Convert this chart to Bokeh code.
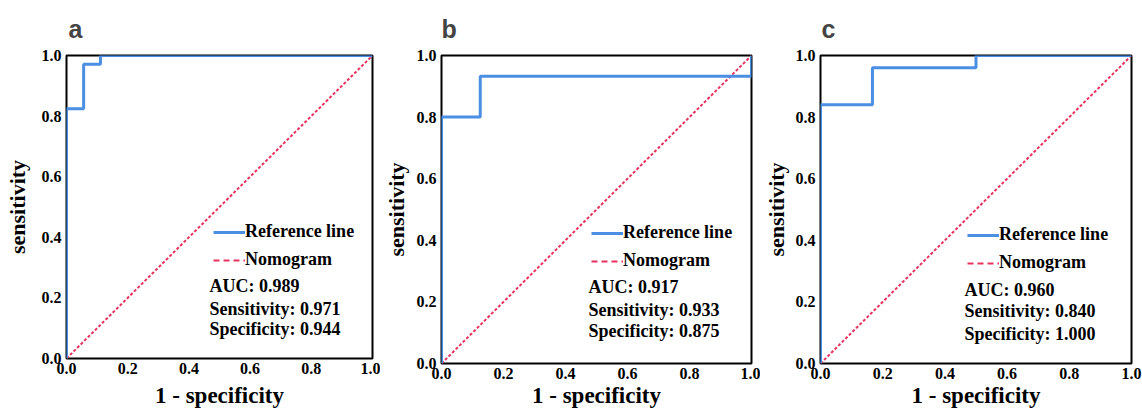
from bokeh.plotting import figure
from bokeh.layouts import row, column
from bokeh.models import (Range1d, FixedTicker, PrintfTickFormatter, Legend,
                          LegendItem, Label)
from bokeh.embed import file_html
from bokeh.resources import INLINE

# ---- data ----
panel_letters = ["a", "b", "c"]
a_fpr = [0.0, 0.0, 0.056, 0.056, 0.111, 0.111, 1.0]
a_tpr = [0.0, 0.824, 0.824, 0.971, 0.971, 1.0, 1.0]
b_fpr = [0.0, 0.0, 0.125, 0.125, 1.0, 1.0]
b_tpr = [0.0, 0.8, 0.8, 0.933, 0.933, 1.0]
c_fpr = [0.0, 0.0, 0.167, 0.167, 0.5, 0.5, 1.0]
c_tpr = [0.0, 0.84, 0.84, 0.96, 0.96, 1.0, 1.0]
diag_x = [0.0, 1.0]
diag_y = [0.0, 1.0]
auc_values = ["0.989", "0.917", "0.960"]
sens_values = ["0.971", "0.933", "0.840"]
spec_values = ["0.944", "0.875", "1.000"]
tick_values = [0.0, 0.2, 0.4, 0.6, 0.8, 1.0]
legend_labels = ["Reference line", "Nomogram"]
x_label = "1 - specificity"
y_label = "sensitivity"

BLUE = "#4a8fe3"
RED = "#e8325e"
SERIF = "Liberation Serif"

styles = [
    dict(width=380, left=66, right=8, bottom=60, ystd=9, xstd=6, toff=2,
         leg=(147, 88), tx=0.467, ty=[0.238, 0.165, 0.096]),
    dict(width=380, left=61, right=9, bottom=55, ystd=5, xstd=1, toff=0,
         leg=(150, 92), tx=0.474, ty=[0.247, 0.175, 0.104]),
    dict(width=382, left=60, right=11, bottom=55, ystd=4, xstd=1, toff=1,
         leg=(147, 90), tx=0.463, ty=[0.240, 0.169, 0.097]),
]
series = [(a_fpr, a_tpr), (b_fpr, b_tpr), (c_fpr, c_tpr)]


def make_panel(i):
    st = styles[i]
    fpr, tpr = series[i]
    p = figure(width=st["width"], height=418, output_backend="svg",
               toolbar_location=None, x_range=Range1d(0, 1), y_range=Range1d(0, 1),
               min_border_left=st["left"], min_border_right=st["right"],
               min_border_top=55, min_border_bottom=st["bottom"],
               background_fill_color="white", border_fill_color="white")
    p.grid.visible = False
    p.outline_line_color = "black"
    p.outline_line_width = 2
    p.outline_line_alpha = 1

    p.title.text = panel_letters[i]
    p.title.text_font = "Liberation Sans"
    p.title.text_font_size = "25px"
    p.title.text_font_style = "bold"
    p.title.align = "left"
    p.title.offset = st["toff"]
    p.title.standoff = 25

    for ax in (p.xaxis[0], p.yaxis[0]):
        ax.ticker = FixedTicker(ticks=tick_values)
        ax.formatter = PrintfTickFormatter(format="%.1f")
        ax.axis_line_color = None
        ax.major_tick_line_color = None
        ax.minor_tick_line_color = None
        ax.major_tick_out = 0
        ax.major_tick_in = 0
        ax.minor_tick_out = 0
        ax.minor_tick_in = 0
        ax.major_label_text_font = SERIF
        ax.major_label_text_font_style = "bold"
        ax.major_label_text_font_size = "16px"
        ax.major_label_text_color = "black"
        ax.axis_label_text_font = SERIF
        ax.axis_label_text_font_style = "bold"
        ax.axis_label_text_color = "black"
    p.xaxis.axis_label = x_label
    p.xaxis.axis_label_text_font_size = "23px"
    p.xaxis.major_label_standoff = 4
    p.xaxis.axis_label_standoff = st["xstd"]
    p.yaxis.axis_label = y_label
    p.yaxis.axis_label_text_font_size = "22px"
    p.yaxis.major_label_standoff = 5
    p.yaxis.axis_label_standoff = st["ystd"]

    p.line(diag_x, diag_y, line_color=RED, line_width=2, line_dash="3 2")
    roc = p.line(fpr, tpr, line_color=BLUE, line_width=3)
    # single-point line: draws nothing in the plot, only provides the legend swatch
    swatch = p.line(diag_x[:1], diag_y[:1], line_color=RED, line_width=2,
                    line_dash="6 4")

    leg = Legend(items=[LegendItem(label=legend_labels[0], renderers=[roc]),
                        LegendItem(label=legend_labels[1], renderers=[swatch])],
                 location=st["leg"], background_fill_alpha=0, border_line_color=None,
                 padding=0, margin=0, spacing=7, glyph_width=32, glyph_height=20,
                 label_height=20, label_standoff=0,
                 label_text_font=SERIF, label_text_font_style="bold",
                 label_text_font_size="18px", label_text_color="black")
    p.add_layout(leg)

    texts = ["AUC: " + auc_values[i], "Sensitivity: " + sens_values[i],
             "Specificity: " + spec_values[i]]
    for t, yy in zip(texts, st["ty"]):
        p.add_layout(Label(x=st["tx"], y=yy, text=t, text_font=SERIF,
                           text_font_style="bold", text_font_size="18px",
                           text_color="black", text_baseline="middle"))
    return p


layout = row(*[column(make_panel(i)) for i in range(3)], spacing=0)
open("out.html", "w").write(file_html(layout, INLINE))
